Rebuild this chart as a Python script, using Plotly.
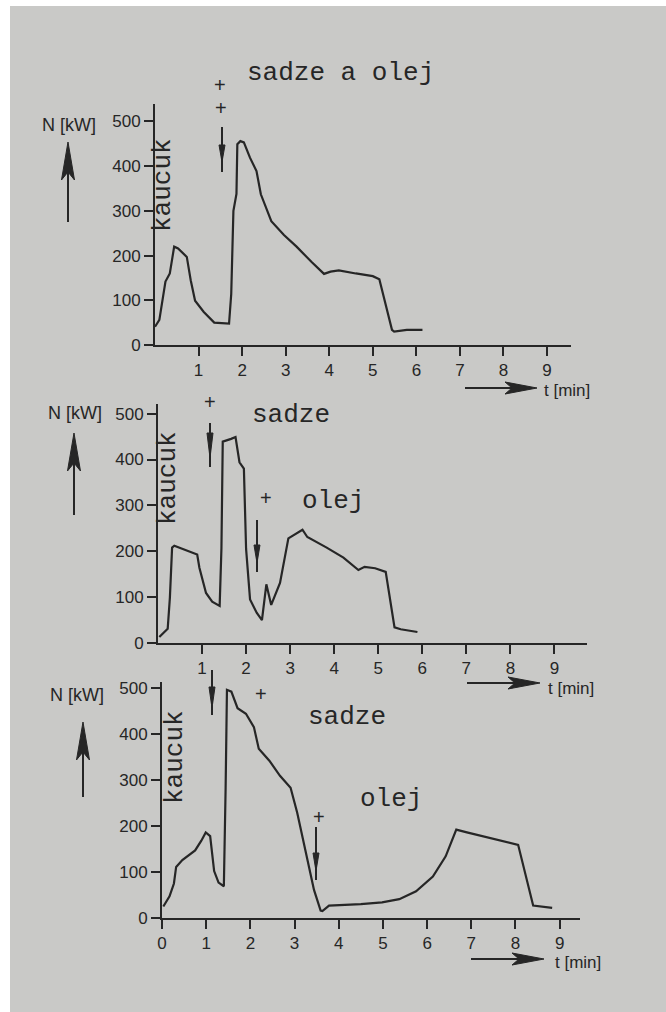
import plotly.graph_objects as go

W, H = 666, 1012

# ---- data ----
t1 = [0.0, 0.1, 0.24, 0.34, 0.44, 0.53, 0.73, 0.82, 0.92, 1.12, 1.36, 1.70, 1.75, 1.80, 1.87, 1.89,
      1.96, 2.04, 2.18, 2.33, 2.43, 2.67, 2.96, 3.25, 3.59, 3.88, 4.03, 4.22, 4.61, 5.0, 5.15, 5.44,
      5.49, 5.78, 6.14]
n1 = [41, 56, 142, 160, 220, 216, 197, 145, 99, 74, 50, 48, 114, 300, 338, 449,
      456, 453, 419, 389, 337, 277, 246, 220, 186, 159, 164, 167, 160, 154, 147, 34,
      30, 34, 34]

t2 = [0.03, 0.22, 0.27, 0.32, 0.37, 0.65, 0.89, 0.94, 1.09, 1.23, 1.40, 1.44, 1.47, 1.66, 1.76,
      1.85, 1.95, 2.0, 2.09, 2.24, 2.36, 2.46, 2.57, 2.77, 2.96, 3.28, 3.39, 3.83, 4.21, 4.55,
      4.69, 4.93, 5.17, 5.37, 5.51, 5.89]
n2 = [13, 31, 99, 208, 212, 201, 193, 164, 109, 90, 81, 206, 439, 445, 449,
      394, 380, 205, 95, 66, 50, 128, 83, 131, 228, 247, 231, 208, 186, 159,
      166, 163, 155, 34, 30, 24]

t3 = [0.03, 0.17, 0.27, 0.32, 0.46, 0.75, 0.89, 0.99, 1.09, 1.18, 1.28, 1.40, 1.44, 1.47, 1.57,
      1.71, 1.90, 2.08, 2.19, 2.43, 2.67, 2.91, 3.06, 3.25, 3.44, 3.59, 3.63, 3.78, 4.02, 4.5,
      4.98, 5.37, 5.75, 6.13, 6.42, 6.66, 6.9, 7.38, 7.67, 8.06, 8.40, 8.49, 8.83]
n3 = [25, 47, 75, 111, 126, 147, 168, 186, 178, 102, 77, 69, 283, 496, 492,
      456, 444, 415, 368, 342, 309, 283, 229, 148, 61, 16, 15, 27, 28, 30,
      34, 41, 58, 90, 134, 192, 186, 175, 168, 159, 27, 26, 22]

x_ticks_top = [1, 2, 3, 4, 5, 6, 7, 8, 9]
x_ticks_bottom = [0, 1, 2, 3, 4, 5, 6, 7, 8, 9]
y_ticks = [0, 100, 200, 300, 400, 500]

INK = "#262626"
BG = "#c9c9c7"
SANS = "Liberation Sans, Arial, sans-serif"
MONO = "Liberation Mono, Courier New, monospace"


def P(x, y):
    return x / W, 1 - y / H


fig = go.Figure()

series = [(t1, n1), (t2, n2), (t3, n3)]
panels = [
    dict(xd=(155, 571), yd=(345, 104), xr=9.55, yr=539, xt=x_ticks_top),
    dict(xd=(158, 587), yd=(643, 404), xr=9.74, yr=521, xt=x_ticks_top),
    dict(xd=(162, 580), yd=(918, 682), xr=9.46, yr=513, xt=x_ticks_bottom),
]

layout_axes = {}
for i, ((t, n), p) in enumerate(zip(series, panels)):
    k = "" if i == 0 else str(i + 1)
    fig.add_trace(go.Scatter(x=t, y=n, mode="lines", line=dict(color=INK, width=2.2),
                             xaxis="x" + k, yaxis="y" + k, showlegend=False, hoverinfo="skip"))
    common = dict(showline=True, linecolor=INK, linewidth=2, ticks="outside", ticklen=9,
                  tickwidth=2, tickcolor=INK, showgrid=False, zeroline=False, automargin=False,
                  tickfont=dict(family=SANS, size=17, color=INK), fixedrange=True)
    layout_axes["xaxis" + k] = dict(common, domain=[p["xd"][0] / W, p["xd"][1] / W],
                                    range=[0, p["xr"]], tickmode="array", tickvals=p["xt"],
                                    anchor="y" + k)
    layout_axes["yaxis" + k] = dict(common, domain=[1 - p["yd"][0] / H, 1 - p["yd"][1] / H],
                                    range=[0, p["yr"]], tickmode="array", tickvals=y_ticks,
                                    anchor="x" + k)

fig.update_layout(**layout_axes)

annotations = []


def text(s, x, y, size, family=MONO, angle=0):
    ax, ay = P(x, y)
    annotations.append(dict(text=s, x=ax, y=ay, xref="paper", yref="paper", showarrow=False,
                            xanchor="center", yanchor="middle", textangle=angle,
                            font=dict(family=family, size=size, color=INK)))


# panel 1
text("sadze a olej", 340, 73, 26)
text("+", 220, 85, 20, SANS)
text("+", 221, 108, 20, SANS)
text("kaucuk", 163, 185, 26, angle=-90)
text("N [kW]", 69, 125, 18, SANS)
text("t [min]", 567, 390, 17, SANS)
# panel 2
text("+", 210, 402, 20, SANS)
text("sadze", 291, 415, 26)
text("+", 266, 498, 20, SANS)
text("olej", 333, 501, 26)
text("kaucuk", 168, 478, 26, angle=-90)
text("N [kW]", 75, 413, 18, SANS)
text("t [min]", 571, 688, 17, SANS)
# panel 3
text("+", 261, 694, 20, SANS)
text("sadze", 347, 717, 26)
text("olej", 391, 799, 26)
text("+", 319, 817, 20, SANS)
text("kaucuk", 175, 757, 26, angle=-90)
text("N [kW]", 77, 695, 18, SANS)
text("t [min]", 578, 962, 17, SANS)

shapes = []
# white scan border on the left and top
shapes.append(dict(type="rect", xref="paper", yref="paper", x0=0, y0=0, x1=10 / W, y1=1,
                   fillcolor="white", line=dict(width=0), layer="below"))
shapes.append(dict(type="rect", xref="paper", yref="paper", x0=0, y0=1 - 6 / H, x1=1, y1=1,
                   fillcolor="white", line=dict(width=0), layer="below"))


def seg(xa, ya, xb, yb, w=2):
    a, b = P(xa, ya)
    c, d = P(xb, yb)
    shapes.append(dict(type="line", xref="paper", yref="paper", x0=a, y0=b, x1=c, y1=d,
                       line=dict(color=INK, width=w)))


def poly(pts):
    s = ""
    for j, (xx, yy) in enumerate(pts):
        a, b = P(xx, yy)
        s += ("M" if j == 0 else "L") + f"{a:.5f},{b:.5f} "
    s += "Z"
    shapes.append(dict(type="path", xref="paper", yref="paper", path=s,
                       fillcolor=INK, line=dict(color=INK, width=1)))


def arrow_right(xa, xb, y):
    seg(xa, y, xb - 10, y, 2)
    poly([(xb, y), (xb - 32, y - 6), (xb - 25, y), (xb - 32, y + 6)])


def arrow_up(x, yb, yt):
    seg(x, yb, x, yt + 10, 2)
    poly([(x, yt), (x + 6.5, yt + 38), (x, yt + 30), (x - 6.5, yt + 38)])


def arrow_down(x, ya, yb, h0, h1):
    seg(x, ya, x, yb, 2)
    poly([(x, h1), (x + 3, h0), (x - 3, h0)])


arrow_right(465, 537, 388)
arrow_right(467, 540, 683)
arrow_right(471, 544, 959)
arrow_up(68, 222, 142)
arrow_up(74, 515, 433)
arrow_up(83, 797, 722)
arrow_down(222, 127, 172, 145, 162)
arrow_down(210, 423, 467, 433, 458)
arrow_down(257, 520, 572, 545, 563)
arrow_down(212, 670, 715, 687, 708)
arrow_down(316, 827, 880, 853, 871)

fig.update_layout(width=W, height=H, margin=dict(l=0, r=0, t=0, b=0, pad=0, autoexpand=False),
                  autosize=False, paper_bgcolor=BG, plot_bgcolor="rgba(0,0,0,0)",
                  annotations=annotations, shapes=shapes, showlegend=False)

post = (
    "document.documentElement.style.margin='0';"
    "document.documentElement.style.overflow='hidden';"
    "document.body.style.margin='0';document.body.style.padding='0';"
    "document.body.style.background='" + BG + "';"
    "document.body.style.overflow='hidden';"
    "var g=document.getElementById('{plot_id}');"
    "g.style.position='fixed';g.style.left='0px';g.style.top='0px';"
)

fig.write_html("out.html", config={"displayModeBar": False}, post_script=post)
